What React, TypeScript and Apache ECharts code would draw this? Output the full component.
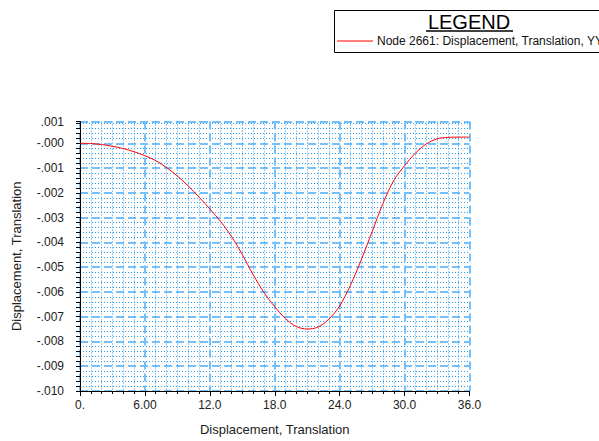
import React, { useEffect, useRef } from "react";
import * as echarts from "echarts";

const seriesName = "Node 2661: Displacement, Translation, YY";
const xValues = [0, 1, 2, 3, 4, 5, 6, 7, 8, 9, 10, 11, 12, 13, 14, 15, 16, 17, 18, 19, 20, 21, 22, 23, 24, 25, 26, 27, 28, 29, 30, 31, 32, 33, 34, 35, 36];
const yValues = [0, -0.00001, -0.00005, -0.00012, -0.00021, -0.00034, -0.0005, -0.0007, -0.00098, -0.00132, -0.00172, -0.00217, -0.00265, -0.00316, -0.00376, -0.00449, -0.0053, -0.00602, -0.0066, -0.00708, -0.0074, -0.0075, -0.00742, -0.0071, -0.00657, -0.00573, -0.0047, -0.00357, -0.00243, -0.0015, -0.0009, -0.0004, -0.00003, 0.00018, 0.00024, 0.00025, 0.00025];
const xTickLabels = ["0.", "6.00", "12.0", "18.0", "24.0", "30.0", "36.0"];
const yTickLabels = ["-.010", "-.009", "-.008", "-.007", "-.006", "-.005", "-.004", "-.003", "-.002", "-.001", "-.000", ".001"];

const FONT = "'Liberation Sans', Arial, sans-serif";

export default function App() {
  const ref = useRef<HTMLDivElement>(null);
  useEffect(() => {
    if (!ref.current) return;
    const chart = echarts.init(ref.current, undefined, { renderer: "svg" });
    const data = xValues.map((x, i) => [x, yValues[i]]);
    chart.setOption({
      animation: false,
      backgroundColor: "#ffffff",
      textStyle: { fontFamily: FONT },
      grid: { left: 80, right: 129.5, top: 121.5, bottom: 46.5, containLabel: false },
      legend: {
        left: 337,
        top: 35,
        icon: "rect",
        itemWidth: 36,
        itemHeight: 1,
        itemGap: 0,
        padding: 0,
        selectedMode: false,
        data: [seriesName],
        textStyle: { fontFamily: FONT, fontSize: 12, color: "#111", padding: [0, 0, 0, -1] },
      },
      graphic: [
        {
          type: "rect",
          shape: { x: 334.5, y: 10.5, width: 300, height: 42 },
          style: { fill: "none", stroke: "#000", lineWidth: 1 },
          silent: true,
        },
        {
          type: "text",
          x: 469,
          y: 22,
          style: {
            text: "LEGEND",
            fontFamily: FONT,
            fontSize: 20,
            fill: "#000",
            align: "center",
            verticalAlign: "middle",
          },
          silent: true,
        },
        {
          type: "line",
          shape: { x1: 426, y1: 31, x2: 513, y2: 31 },
          style: { stroke: "#000", lineWidth: 1.5 },
          silent: true,
        },
      ],
      xAxis: {
        type: "value",
        min: 0,
        max: 36,
        interval: 6,
        name: "Displacement, Translation",
        nameLocation: "middle",
        nameGap: 32,
        nameTextStyle: { fontFamily: FONT, fontSize: 13, color: "#222" },
        axisLine: { show: true, onZero: false, lineStyle: { color: "#000", width: 1 } },
        axisTick: { show: true, length: 5, lineStyle: { color: "#000" } },
        minorTick: { show: true, splitNumber: 6, length: 3, lineStyle: { color: "#000" } },
        axisLabel: {
          margin: 8,
          fontFamily: FONT,
          fontSize: 12,
          color: "#222",
          showMinLabel: true,
          showMaxLabel: true,
          formatter: (v: number) => xTickLabels[Math.round(v / 6)] ?? "",
        },
        splitLine: { show: true, lineStyle: { color: "#74c0fa", width: 2, type: [8, 4] } },
        minorSplitLine: { show: true, lineStyle: { color: "#2a9df4", width: 1, type: [1, 2] } },
      },
      yAxis: {
        type: "value",
        min: -0.01,
        max: 0.00088,
        interval: 0.001,
        name: "Displacement, Translation",
        nameLocation: "middle",
        nameGap: 57,
        nameTextStyle: { fontFamily: FONT, fontSize: 13, color: "#222" },
        axisLine: { show: true, onZero: false, lineStyle: { color: "#000", width: 1 } },
        axisTick: { show: true, length: 4, lineStyle: { color: "#000" } },
        minorTick: { show: true, splitNumber: 5, length: 4, lineStyle: { color: "#000" } },
        axisLabel: {
          margin: 16,
          fontFamily: FONT,
          fontSize: 12,
          color: "#222",
          showMinLabel: true,
          showMaxLabel: true,
          formatter: (v: number) => yTickLabels[Math.round((v + 0.01) / 0.001)] ?? "",
        },
        splitLine: { show: true, lineStyle: { color: "#74c0fa", width: 2, type: [8, 4] } },
        minorSplitLine: { show: true, lineStyle: { color: "#2a9df4", width: 1, type: [1, 2] } },
      },
      series: [
        {
          name: seriesName,
          type: "line",
          data,
          smooth: 0.3,
          symbol: "none",
          lineStyle: { color: "#ff0000", width: 1 },
          itemStyle: { color: "#ff0000" },
        },
      ],
    });
    return () => chart.dispose();
  }, []);
  return (
    <div
      ref={ref}
      style={{ position: "fixed", left: 0, top: 0, width: 599, height: 441, overflow: "hidden" }}
    />
  );
}
